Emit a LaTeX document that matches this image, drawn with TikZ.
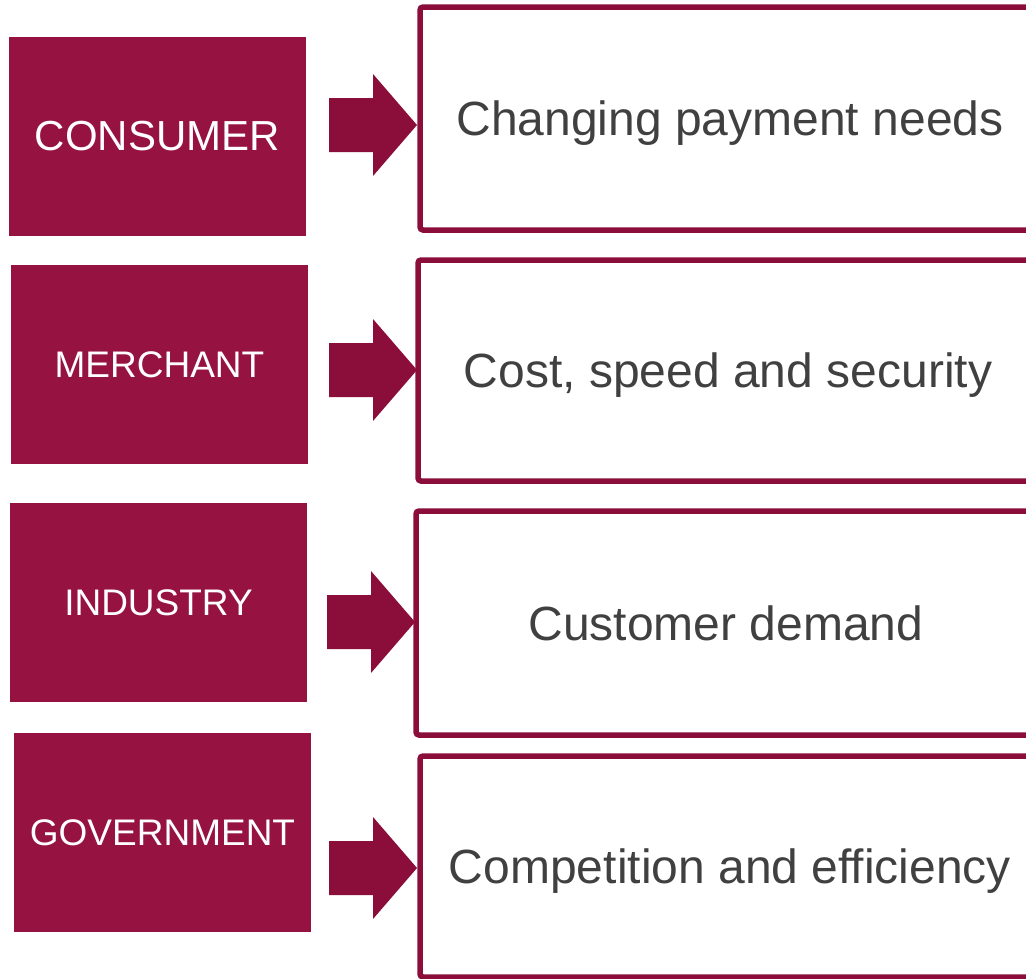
\documentclass[tikz,border=0pt]{standalone}
\usepackage{fontspec}
\setmainfont{Liberation Sans}
\definecolor{boxred}{HTML}{961240}
\definecolor{arrred}{HTML}{8B0E3A}
\definecolor{txtgray}{HTML}{404040}
\begin{document}
\begin{tikzpicture}[x=1pt,y=-1pt,
  leftbox/.style={fill=boxred, draw=none, minimum width=297pt, minimum height=199pt, inner sep=0pt, text=white, font=\fontsize{37}{44}\selectfont},
  rightbox/.style={draw=arrred, line width=5.5pt, rounded corners=3pt, minimum width=620pt, inner sep=0pt, text=txtgray, font=\fontsize{48}{56}\selectfont, text height=34.4pt, text depth=0pt},
  blockarrow/.style={fill=arrred, draw=none}]
\useasboundingbox (0,0) rectangle (1026,978);
\clip (0,0) rectangle (1026,978);
% left boxes
\node[leftbox, font=\fontsize{42}{50}\selectfont] (l1) at (157.5,136.5) {CONSUMER};
\node[leftbox] (l2) at (159.5,364.5) {MERCHANT};
\node[leftbox] (l3) at (158.5,602.5) {INDUSTRY};
\node[leftbox] (l4) at (162.5,832.5) {GOVERNMENT};
% right boxes
\node[rightbox, minimum height=223pt] (r1) at (730,118.5) {Changing payment needs};
\node[rightbox, minimum height=221pt] (r2) at (728,370.5) {Cost, speed and security};
\node[rightbox, minimum height=224pt] (r3) at (726,623) {Customer demand};
\node[rightbox, minimum height=221pt] (r4) at (730,866.5) {Competition and efficiency};
% block arrows
\foreach \n/\x/\c in {1/329/125, 2/329/370, 3/327/622, 4/329/868}{
  \fill[blockarrow] (\x,\c-27) -- (\x+44,\c-27) -- (\x+44,\c-51) -- (\x+88,\c) -- (\x+44,\c+51) -- (\x+44,\c+27) -- (\x,\c+27) -- cycle;
}
\end{tikzpicture}
\end{document}
